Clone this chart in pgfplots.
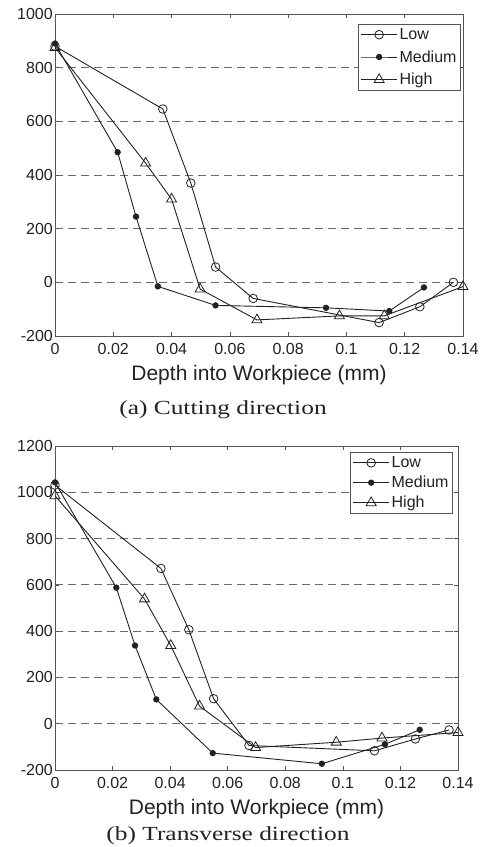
\documentclass[border=0pt]{standalone}
\usepackage{fontspec}
\setmainfont{Liberation Sans}
\newfontfamily\capfont{Liberation Serif}[FakeStretch=1.27]
\usepackage{pgfplots}
\pgfplotsset{compat=1.18}
\definecolor{lc}{HTML}{222222}
\definecolor{gc}{HTML}{6a6a6a}
\definecolor{ac}{HTML}{555555}
\pgfplotsset{
  myaxis/.style={
    scale only axis,
    xmin=0, xmax=0.14,
    xtick={0,0.02,0.04,0.06,0.08,0.1,0.12,0.14},
    xticklabels={0,0.02,0.04,0.06,0.08,0.1,0.12,0.14},
    tick align=inside,
    major tick length=4pt,
    axis line style={ac, line width=1pt},
    every tick/.style={ac, line width=0.7pt},
    ymajorgrids,
    major grid style={gc, dash pattern=on 8pt off 5pt, line width=1pt},
    tick label style={font=\fontsize{16}{16}\selectfont, text=lc, inner sep=2pt},
    xticklabel style={yshift=-5pt},
    xlabel={Depth into Workpiece (mm)},
    xlabel style={font=\fontsize{21}{21}\selectfont, text=lc, at={(0.5,0)}, anchor=base, yshift=-44pt},
    legend cell align=left,
    legend style={font=\fontsize{16}{16}\selectfont, draw=ac, line width=0.9pt, inner sep=2pt, text=lc,
      /tikz/every even column/.append style={column sep=1pt}},
    legend image code/.code={\draw[mark repeat=2,mark phase=2] plot coordinates {(0pt,0pt)(18pt,0pt)(36pt,0pt)};},
    every axis plot/.append style={lc, line width=0.9pt},
  },
  lowst/.style={mark=o, mark size=4.3pt, mark options={fill=white, line width=0.8pt}},
  medst/.style={mark=*, mark size=2.7pt, mark options={fill=lc}},
  highst/.style={mark=triangle, mark size=5.8pt, mark options={fill=white, line width=0.8pt}},
}
\begin{document}
\begin{tikzpicture}
\path[use as bounding box] (0,0) rectangle (486pt,-847pt);
\begin{axis}[myaxis,
  at={(55pt,-336pt)}, anchor=south west,
  width=408pt, height=322pt,
  ymin=-200, ymax=1000,
  ytick={-200,0,200,400,600,800,1000},
  yticklabels={-200,0,200,400,600,800,1000},
  legend style={at={(0.995,0.969)}, anchor=north east, row sep=5.5pt},
]
\addplot[lowst] coordinates {(0,880) (0.037,646) (0.0466,370) (0.0551,57) (0.068,-60) (0.1112,-150) (0.1252,-91) (0.1367,0)};
\addlegendentry{Low}
\addplot[medst] coordinates {(0,890) (0.0215,485) (0.0278,245) (0.0353,-15) (0.0551,-86) (0.093,-95) (0.1147,-107) (0.1266,-19)};
\addlegendentry{Medium}
\addplot[highst] coordinates {(0,875) (0.0311,444) (0.040,310) (0.0498,-25) (0.0693,-140) (0.0976,-125) (0.113,-125) (0.14,-16)};
\addlegendentry{High}
\end{axis}
\begin{axis}[myaxis,
  at={(55pt,-770pt)}, anchor=south west,
  width=403pt, height=324pt,
  ymin=-200, ymax=1200,
  ytick={-200,0,200,400,600,800,1000,1200},
  yticklabels={-200,0,200,400,600,800,1000,1200},
  legend style={at={(0.9876,0.981)}, anchor=north east, row sep=3pt},
]
\addplot[lowst] coordinates {(0,1031) (0.0368,671) (0.0465,406) (0.0551,108) (0.0674,-94) (0.111,-117) (0.1252,-66) (0.1369,-27)};
\addlegendentry{Low}
\addplot[medst] coordinates {(0,1043) (0.0213,588) (0.0278,338) (0.0352,105) (0.0548,-127) (0.0927,-173) (0.1146,-89) (0.1267,-26)};
\addlegendentry{Medium}
\addplot[highst] coordinates {(0,985) (0.0311,539) (0.0402,338) (0.0502,76) (0.0697,-103) (0.0977,-80) (0.1136,-62) (0.14,-38)};
\addlegendentry{High}
\end{axis}
\node[font=\capfont\fontsize{20}{20}\selectfont, text=lc] at (223pt,-410pt) {(a) Cutting direction};
\node[font=\capfont\fontsize{20}{20}\selectfont, text=lc] at (228pt,-836pt) {(b) Transverse direction};
\end{tikzpicture}
\end{document}
